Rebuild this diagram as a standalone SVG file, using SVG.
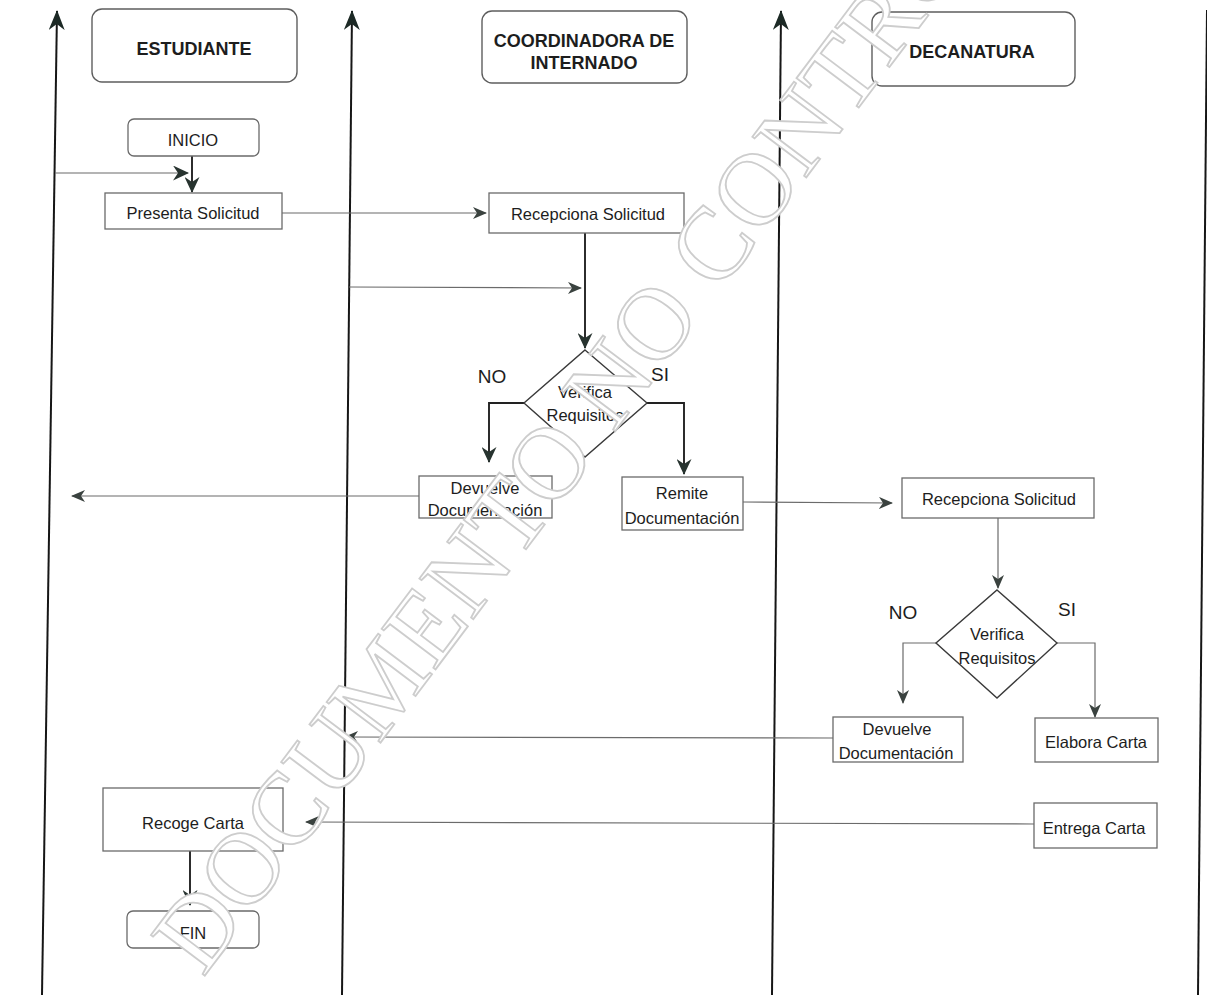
<svg xmlns="http://www.w3.org/2000/svg" width="1207" height="998" viewBox="0 0 1207 998">
  <defs>
    <!-- arrowheads: barbed heads, dark for the main flow, grey for the hand-off lines -->
    <marker id="lane-head" viewBox="0 0 20 16" refX="19" refY="8" markerWidth="20" markerHeight="16" markerUnits="userSpaceOnUse" orient="auto">
      <path d="M0,0 L20,8 L0,16 L6,8 z" fill="#1c2925"/>
    </marker>
    <marker id="dark-head" viewBox="0 0 16 15" refX="15" refY="7.5" markerWidth="16" markerHeight="15" markerUnits="userSpaceOnUse" orient="auto">
      <path d="M0,0 L16,7.5 L0,15 L5,7.5 z" fill="#27332f"/>
    </marker>
    <marker id="grey-head" viewBox="0 0 14 12" refX="13" refY="6" markerWidth="14" markerHeight="12" markerUnits="userSpaceOnUse" orient="auto">
      <path d="M0,0 L14,6 L0,12 L4,6 z" fill="#3a423f"/>
    </marker>
  </defs>
  <style>
    .lane { stroke: #161616; stroke-width: 2; fill: none; }
    .hdr { fill: #fff; stroke: #5e5e5e; stroke-width: 1.4; }
    .box { fill: #fff; stroke: #6a6a6a; stroke-width: 1.3; }
    .dia { fill: #fff; stroke: #3a3a3a; stroke-width: 1.4; }
    .flow { stroke: #222; stroke-width: 1.9; fill: none; }
    .link { stroke: #6b6b6b; stroke-width: 1.2; fill: none; }
    .t { font-family: "Liberation Sans", Arial, sans-serif; font-size: 16.5px; fill: #1d1d1d; text-anchor: middle; }
    .h { font-family: "Liberation Sans", Arial, sans-serif; font-size: 18px; font-weight: bold; fill: #1d1d1d; text-anchor: middle; }
    .lbl { font-family: "Liberation Sans", Arial, sans-serif; font-size: 19px; fill: #1d1d1d; text-anchor: middle; }
    .stamp { font-family: "Liberation Serif", "Times New Roman", serif; font-size: 103px; fill: #fff; stroke: #cdcdcd; stroke-width: 1.8; }
  </style>

  <rect width="1207" height="998" fill="#fff"/>

  <!-- swimlane separators -->
  <g id="lanes">
    <line class="lane" x1="42" y1="995" x2="57" y2="11" marker-end="url(#lane-head)"/>
    <line class="lane" x1="342" y1="995" x2="352" y2="11" marker-end="url(#lane-head)"/>
    <line class="lane" x1="772" y1="995" x2="781" y2="11" marker-end="url(#lane-head)"/>
    <line class="lane" x1="1198" y1="995" x2="1207" y2="10"/>
  </g>

  <!-- lane headers -->
  <g id="hdr-estudiante">
    <rect class="hdr" x="92" y="9" width="205" height="73" rx="10"/>
    <text class="h" x="194" y="55">ESTUDIANTE</text>
  </g>
  <g id="hdr-coordinadora">
    <rect class="hdr" x="482" y="11" width="205" height="72" rx="10"/>
    <text class="h" x="584" y="47">COORDINADORA DE</text>
    <text class="h" x="584" y="69">INTERNADO</text>
  </g>
  <g id="hdr-decanatura">
    <rect class="hdr" x="872" y="12" width="203" height="74" rx="10"/>
    <text class="h" x="972" y="58">DECANATURA</text>
  </g>

  <!-- connectors -->
  <g id="connectors">
    <line class="link" x1="55" y1="173" x2="188" y2="173" marker-end="url(#dark-head)"/>
    <line class="flow" x1="192" y1="156" x2="192" y2="192" marker-end="url(#dark-head)"/>
    <line class="link" x1="282" y1="213" x2="486" y2="213" marker-end="url(#grey-head)"/>
    <line class="link" x1="349" y1="287" x2="581" y2="288" marker-end="url(#grey-head)"/>
    <line class="flow" x1="585" y1="233" x2="585" y2="348" marker-end="url(#dark-head)"/>
    <polyline class="flow" points="524,403 489,403 489,462" marker-end="url(#dark-head)"/>
    <polyline class="flow" points="647,403 684,403 684,474" marker-end="url(#dark-head)"/>
    <line class="link" x1="419" y1="496" x2="72" y2="496" marker-end="url(#grey-head)"/>
    <line class="link" x1="743" y1="502" x2="892" y2="503" marker-end="url(#grey-head)"/>
    <line class="link" x1="998" y1="518" x2="998" y2="588" marker-end="url(#grey-head)"/>
    <polyline class="link" points="936,643 903,643 903,703" marker-end="url(#grey-head)"/>
    <polyline class="link" points="1057,643 1095,643 1095,717" marker-end="url(#grey-head)"/>
    <line class="link" x1="833" y1="738" x2="345" y2="737" marker-end="url(#grey-head)"/>
    <line class="link" x1="1034" y1="824" x2="306" y2="822" marker-end="url(#grey-head)"/>
    <line class="flow" x1="190" y1="851" x2="190" y2="905" marker-end="url(#dark-head)"/>
  </g>

  <!-- Estudiante lane -->
  <g id="inicio">
    <rect class="box" x="128" y="119" width="131" height="37" rx="6"/>
    <text class="t" x="193" y="146">INICIO</text>
  </g>
  <g id="presenta-solicitud">
    <rect class="box" x="105" y="193" width="177" height="36"/>
    <text class="t" x="193" y="219">Presenta Solicitud</text>
  </g>
  <g id="recoge-carta">
    <rect class="box" x="103" y="788" width="180" height="63"/>
    <text class="t" x="193" y="829">Recoge Carta</text>
  </g>
  <g id="fin">
    <rect class="box" x="127" y="911" width="132" height="37" rx="6"/>
    <text class="t" x="193" y="939">FIN</text>
  </g>

  <!-- Coordinadora lane -->
  <g id="recepciona-coord">
    <rect class="box" x="489" y="193" width="195" height="40"/>
    <text class="t" x="588" y="220">Recepciona Solicitud</text>
  </g>
  <g id="verifica-coord">
    <polygon class="dia" points="585,350 647,403 585,457 524,403"/>
    <text class="t" x="585" y="398">Verifica</text>
    <text class="t" x="585" y="421">Requisitos</text>
    <text class="lbl" x="492" y="383">NO</text>
    <text class="lbl" x="660" y="381">SI</text>
  </g>
  <g id="devuelve-coord">
    <rect class="box" x="419" y="476" width="133" height="42"/>
    <text class="t" x="485" y="494">Devuelve</text>
    <text class="t" x="485" y="516">Documentación</text>
  </g>
  <g id="remite">
    <rect class="box" x="622" y="477" width="121" height="53"/>
    <text class="t" x="682" y="499">Remite</text>
    <text class="t" x="682" y="524">Documentación</text>
  </g>

  <!-- Decanatura lane -->
  <g id="recepciona-dec">
    <rect class="box" x="902" y="478" width="192" height="40"/>
    <text class="t" x="999" y="505">Recepciona Solicitud</text>
  </g>
  <g id="verifica-dec">
    <polygon class="dia" points="997,590 1057,643 997,698 936,643"/>
    <text class="t" x="997" y="640">Verifica</text>
    <text class="t" x="997" y="664">Requisitos</text>
    <text class="lbl" x="903" y="619">NO</text>
    <text class="lbl" x="1067" y="616">SI</text>
  </g>
  <g id="devuelve-dec">
    <rect class="box" x="833" y="717" width="130" height="45"/>
    <text class="t" x="897" y="735">Devuelve</text>
    <text class="t" x="896" y="759">Documentación</text>
  </g>
  <g id="elabora-carta">
    <rect class="box" x="1035" y="718" width="123" height="44"/>
    <text class="t" x="1096" y="748">Elabora Carta</text>
  </g>
  <g id="entrega-carta">
    <rect class="box" x="1034" y="803" width="123" height="45"/>
    <text class="t" x="1094" y="834">Entrega Carta</text>
  </g>

  <!-- document control stamp -->
  <text class="stamp" transform="translate(203 978) rotate(-53)">DOCUMENTO NO CONTROLADO</text>
</svg>
